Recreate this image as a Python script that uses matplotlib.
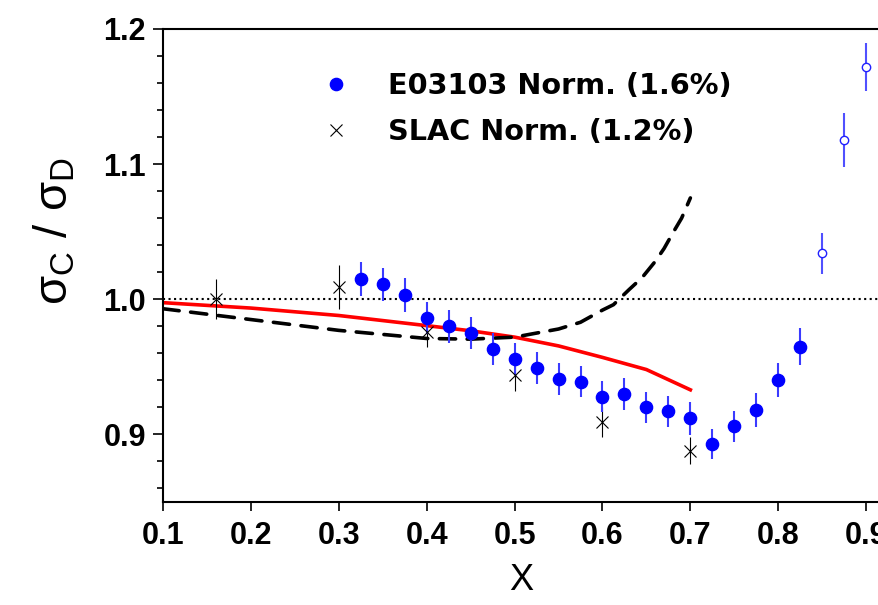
import numpy as np
import matplotlib
matplotlib.use("Agg")
import matplotlib.pyplot as plt
from matplotlib.ticker import MultipleLocator

plt.rcParams['font.family'] = ['Liberation Sans', 'DejaVu Sans']
plt.rcParams['mathtext.fontset'] = 'custom'
plt.rcParams['mathtext.rm'] = 'Liberation Sans'
plt.rcParams['mathtext.default'] = 'regular'

# -------- E03103 data --------
e_x = [0.325, 0.35, 0.375, 0.4, 0.425, 0.45, 0.475, 0.5, 0.525, 0.55, 0.575,
       0.6, 0.625, 0.65, 0.675, 0.7, 0.725, 0.75, 0.775, 0.8, 0.825]
e_y = [1.015, 1.011, 1.003, 0.986, 0.980, 0.975, 0.963, 0.956, 0.949, 0.941, 0.939,
       0.928, 0.930, 0.920, 0.917, 0.912, 0.893, 0.906, 0.918, 0.940, 0.965]
e_err = [0.0125, 0.0125, 0.0125, 0.012, 0.012, 0.012, 0.0117, 0.012, 0.0117, 0.0117, 0.0114,
         0.0114, 0.0118, 0.0113, 0.0117, 0.0123, 0.011, 0.0115, 0.0123, 0.0125, 0.0135]

# high-x points (open symbols)
open_x = [0.85, 0.875, 0.9]
open_y = [1.034, 1.118, 1.172]
open_err = [0.015, 0.020, 0.018]

# -------- SLAC data --------
slac_x = [0.16, 0.3, 0.4, 0.5, 0.6, 0.7]
slac_y = [1.000, 1.009, 0.976, 0.944, 0.909, 0.888]
slac_err = [0.0147, 0.0165, 0.0115, 0.0117, 0.011, 0.010]

# -------- model curves --------
red_x = [0.1, 0.2, 0.3, 0.4, 0.45, 0.5, 0.55, 0.6, 0.65, 0.7]
red_y = [0.9975, 0.9935, 0.988, 0.9805, 0.9767, 0.972, 0.9655, 0.957, 0.948, 0.933]

dash_x = [0.1, 0.2, 0.3, 0.35, 0.4, 0.45, 0.5, 0.55, 0.575, 0.6, 0.6125, 0.63, 0.645,
          0.66, 0.67, 0.68, 0.69, 0.7]
dash_y = [0.993, 0.985, 0.977, 0.974, 0.971, 0.9705, 0.972, 0.978, 0.983, 0.992, 0.996,
          1.007, 1.016, 1.028, 1.0375, 1.049, 1.060, 1.075]

fig = plt.figure(figsize=(8.79, 6.05), dpi=100)
ax = fig.add_axes([163/879, 103/605, 1 - 163/879, 473/605])

ax.axhline(1.0, color='black', ls=':', lw=1.5, zorder=1)
ax.plot(red_x, red_y, color='#ff0000', lw=2.6, zorder=2)
ax.plot(dash_x, dash_y, color='black', lw=2.6, ls=(0, (4.5, 3.2)),
        dash_capstyle='round', zorder=2)

ax.errorbar(slac_x, slac_y, yerr=slac_err, fmt='none', ecolor='black', elinewidth=0.8, zorder=3)
ax.errorbar(e_x, e_y, yerr=e_err, fmt='none', ecolor='#3b3bff', elinewidth=1.5, zorder=4)
ax.errorbar(open_x, open_y, yerr=open_err, fmt='none', ecolor='#5050ff', elinewidth=1.5, zorder=4)

ax.plot(e_x, e_y, 'o', color='#0000ff', ms=8.8, mec='#0000ff', zorder=5,
        label='E03103 Norm. (1.6%)')
ax.plot(open_x, open_y, 'o', ms=6, mfc='white', mec='#2020ff', mew=1.0, zorder=5)
ax.plot(slac_x, slac_y, 'x', color='black', ms=9, mew=0.8, zorder=6,
        label='SLAC Norm. (1.2%)')

ax.set_xlim(0.1, 0.9146)
ax.set_ylim(0.85, 1.2)
ax.yaxis.set_minor_locator(MultipleLocator(0.02))
ax.set_xticks(np.arange(0.1, 0.95, 0.1))
ax.set_xticklabels(['0.1', '0.2', '0.3', '0.4', '0.5', '0.6', '0.7', '0.8', '0.9'])
ax.set_yticks([0.9, 1.0, 1.1, 1.2])
ax.set_yticklabels(['0.9', '1.0', '1.1', '1.2'])

for s in ['left', 'bottom', 'top']:
    ax.spines[s].set_linewidth(1.5)
ax.spines['right'].set_visible(False)

ax.tick_params(axis='both', which='major', direction='out', width=1.2,
               labelsize=22)
ax.tick_params(axis='x', which='major', length=6.5, pad=7)
ax.tick_params(axis='y', which='major', length=7.2, pad=5)
ax.tick_params(axis='y', which='minor', direction='out', length=4.3, width=1.2)
for lab in ax.get_xticklabels() + ax.get_yticklabels():
    lab.set_fontweight('bold')

ax.set_xlabel('X', fontsize=26, labelpad=9)
ax.set_ylabel(r'$\sigma_C$ / $\sigma_D$', fontsize=34)
ax.yaxis.set_label_coords(-0.119, 0.573)

leg = ax.legend(loc='upper left', bbox_to_anchor=(321.6/879, (605 - 72)/605),
                bbox_transform=fig.transFigure, frameon=False,
                prop={'family': 'DejaVu Sans', 'weight': 'bold', 'size': 20.7},
                handlelength=1.0, handletextpad=1.3, labelspacing=0.62,
                borderpad=0, borderaxespad=0, numpoints=1)

fig.savefig('out.png', dpi=100)
